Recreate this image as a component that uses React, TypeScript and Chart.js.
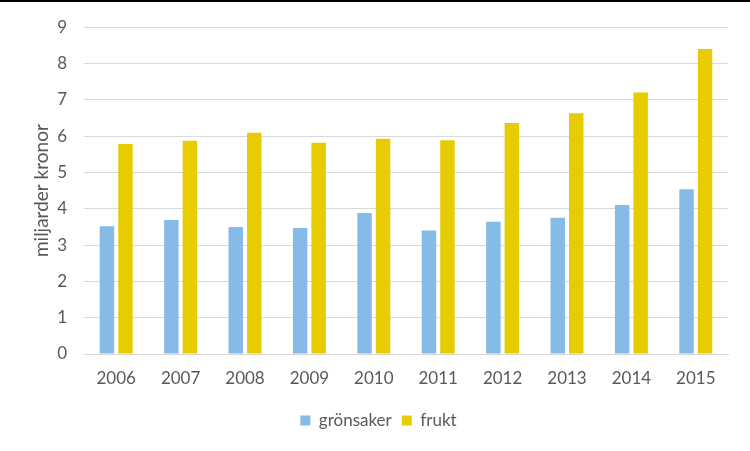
import React, { useEffect, useRef } from "react";
import { Chart, registerables } from "chart.js";

Chart.register(...registerables);

const years = ["2006", "2007", "2008", "2009", "2010", "2011", "2012", "2013", "2014", "2015"];
const gronsaker = [3.52, 3.69, 3.5, 3.47, 3.88, 3.4, 3.64, 3.75, 4.1, 4.54];
const frukt = [5.78, 5.87, 6.09, 5.82, 5.93, 5.89, 6.36, 6.63, 7.2, 8.4];
const seriesNames = ["grönsaker", "frukt"];
const yTitle = "miljarder kronor";

const FONT = "Lato, 'Open Sans', sans-serif";
const TEXT = "#595959";

const topLine = {
  id: "topLine",
  afterDraw(chart: any) {
    const ctx = chart.ctx;
    ctx.save();
    ctx.fillStyle = "#000";
    ctx.fillRect(0, 0, chart.width, 2);
    ctx.restore();
  },
};

export default function App() {
  const ref = useRef<HTMLCanvasElement | null>(null);
  useEffect(() => {
    if (!ref.current) return;
    const chart = new Chart(ref.current, {
      type: "bar",
      data: {
        labels: years,
        datasets: [
          {
            label: seriesNames[0],
            data: gronsaker,
            backgroundColor: "#85bbe6",
            categoryPercentage: 0.575,
            barPercentage: 0.78,
          },
          {
            label: seriesNames[1],
            data: frukt,
            backgroundColor: "#e6cc00",
            categoryPercentage: 0.575,
            barPercentage: 0.78,
          },
        ],
      },
      options: {
        responsive: false,
        animation: false,
        layout: { padding: { left: 7, right: 0, top: 20, bottom: 12 } },
        plugins: {
          tooltip: { enabled: false },
          legend: {
            position: "bottom",
            labels: {
              boxWidth: 10,
              boxHeight: 10,
              padding: 10,
              color: TEXT,
              font: { family: FONT, size: 17 },
            },
          },
        },
        scales: {
          x: {
            grid: { display: false, drawTicks: false },
            border: { display: true, color: "#d9d9d9" },
            ticks: { color: TEXT, font: { family: FONT, size: 17 }, padding: 14 },
            afterFit: (s: any) => {
              s.height = 48;
            },
          },
          y: {
            min: 0,
            max: 9,
            ticks: { stepSize: 1, color: TEXT, font: { family: FONT, size: 17 }, padding: 17 },
            grid: { color: "#d9d9d9", drawTicks: false },
            border: { display: false },
            title: {
              display: true,
              text: yTitle,
              color: TEXT,
              font: { family: FONT, size: 19 },
              padding: { top: 23, bottom: 0 },
            },
            afterFit: (s: any) => {
              s.width = 77;
            },
          },
          y2: {
            position: "right",
            display: true,
            grid: { display: false, drawTicks: false },
            border: { display: false },
            ticks: { display: false },
            afterFit: (s: any) => {
              s.width = 22;
            },
          },
        },
      },
      plugins: [topLine],
    } as any);
    return () => chart.destroy();
  }, []);
  return (
    <div style={{ position: "absolute", left: 0, top: 0, width: 750, height: 451, background: "#fff" }}>
      <canvas ref={ref} width={750} height={451} style={{ display: "block" }} />
    </div>
  );
}
